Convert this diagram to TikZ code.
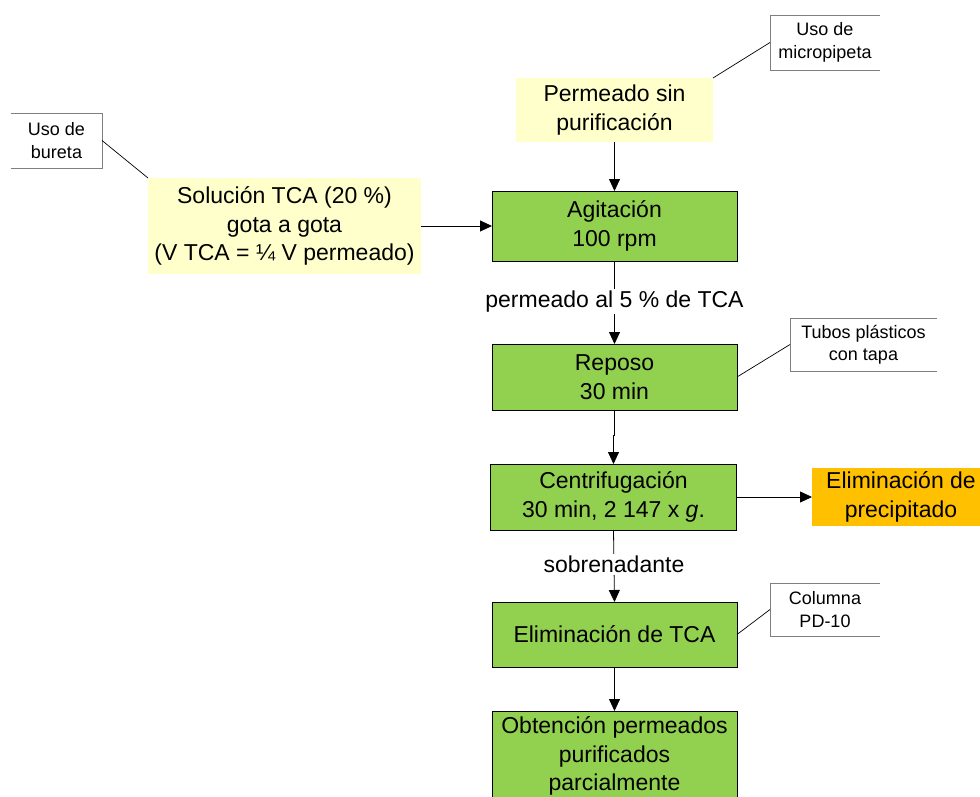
\documentclass[tikz,border=0pt]{standalone}
\usepackage{fontspec}
\setmainfont{Liberation Sans}
\usetikzlibrary{arrows.meta}
\definecolor{paleyellow}{HTML}{FFFFCC}
\definecolor{stepgreen}{HTML}{92D050}
\definecolor{wasteorange}{HTML}{FFC000}
\definecolor{calloutgray}{HTML}{7F7F7F}
\begin{document}
\begin{tikzpicture}[x=1pt,y=-1pt,
  every node/.style={inner sep=0pt,outer sep=0pt,align=center},
  maintext/.style={font=\fontsize{23}{28.5}\selectfont},
  stepbox/.style={maintext,draw=black,line width=0.9pt,fill=stepgreen},
  inputbox/.style={maintext,fill=paleyellow},
  wastebox/.style={maintext,fill=wasteorange},
  notebox/.style={font=\fontsize{18}{22.5}\selectfont},
  notelines/.style={draw=calloutgray,line width=0.9pt},
  leader/.style={draw=black,line width=0.7pt},
  arr/.style={draw=black,line width=0.8pt,-{Triangle[length=12pt,width=11pt]}},
  flowlbl/.style={maintext,fill=white,inner sep=2pt}]
\clip (0,0) rectangle (980,797);

% inputs
\node[inputbox,minimum width=273pt,minimum height=96pt] (sol) at (284.5,226)
  {Solución TCA (20 \%)\\gota a gota\\(V TCA = ¼ V permeado)};
\node[inputbox,minimum width=197pt,minimum height=64pt] (perm) at (614.5,110)
  {Permeado sin\\purificación};

% process steps
\node[stepbox,minimum width=245pt,minimum height=70pt] (agi) at (614.5,226)
  {Agitación\\100 rpm};
\node[stepbox,minimum width=245pt,minimum height=66pt] (rep) at (614.5,377)
  {Reposo\\30 min};
\node[stepbox,minimum width=246pt,minimum height=66pt] (cen) at (613.5,497)
  {Centrifugación\\30 min, 2 147 x \textit{g}.};
\node[wastebox,minimum width=178pt,minimum height=58pt] (eprec) at (901,497)
  {Eliminación de\\precipitado};
\node[stepbox,minimum width=245pt,minimum height=65pt] (etca) at (614.5,634.5)
  {Eliminación de TCA};
\node[stepbox,minimum width=245pt,minimum height=90pt] (obt) at (614.5,756)
  {Obtención permeados\\purificados\\parcialmente};

% side notes
\node[notebox,minimum width=91pt,minimum height=55pt] (bur) at (56.5,140.5) {Uso de\\bureta};
\node[notebox,minimum width=110pt,minimum height=55pt] (mp) at (825,42.5) {Uso de\\micropipeta};
\node[notebox,minimum width=147pt,minimum height=53pt] (tub) at (863.5,344.5) {Tubos plásticos\\con tapa};
\node[notebox,minimum width=110pt,minimum height=53pt] (col) at (825,609.5) {Columna\\PD-10};

\path[notelines] (bur.north west) -- (bur.north east) -- (bur.south east) -- (bur.south west);
\path[notelines] (mp.north east) -- (mp.north west) -- (mp.south west) -- (mp.south east);
\path[notelines] (tub.north east) -- (tub.north west) -- (tub.south west) -- (tub.south east);
\path[notelines] (col.north east) -- (col.north west) -- (col.south west) -- (col.south east);

\path[leader] (bur.east) -- (sol.north west);
\path[leader] (mp.west) -- (perm.north east);
\path[leader] (tub.west) -- (rep.east);
\path[leader] (col.west) -- (etca.east);

% flow
\path[arr] (perm.south) -- (agi.north);
\path[arr] (sol.east |- agi.west) -- (agi.west);
\path[arr] (agi.south) -- node[flowlbl,pos=0.49] (lbla) {permeado al 5 \% de TCA} (rep.north);
\path[arr] (rep.south) -- ++(0,25) -| (cen.north);
\path[arr] (cen.east) -- (eprec.west);
\path[arr] (cen.south) -- node[flowlbl,pos=0.48] (lblb) {sobrenadante} (etca.north);
\path[arr] (etca.south) -- (obt.north);
\end{tikzpicture}
\end{document}
